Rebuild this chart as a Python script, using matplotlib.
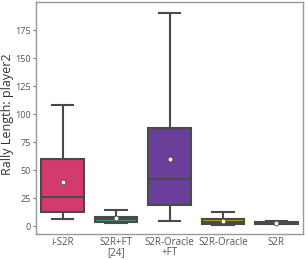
import matplotlib
matplotlib.use("Agg")
import matplotlib.pyplot as plt

plt.rcParams['font.family'] = ['Open Sans', 'DejaVu Sans']

# box statistics
labels = ['i-S2R', 'S2R+FT\n[24]', 'S2R-Oracle\n+FT', 'S2R-Oracle', 'S2R']
whislo = [6, 3, 4.5, 1, 1.5]
q1 = [12.5, 3.5, 19, 2, 2]
med = [26, 6, 42.5, 4, 3]
q3 = [60, 8.3, 88, 6.5, 3.8]
whishi = [108, 14, 190, 12.5, 4.5]
means = [39.5, 7, 60, 4.7, 3]
colors = ['#d23a70', '#3a9b95', '#6a3f9c', '#c79c22', '#5a5a5a']

stats = []
for i in range(len(labels)):
    stats.append({'whislo': whislo[i], 'q1': q1[i], 'med': med[i], 'q3': q3[i],
                  'whishi': whishi[i], 'mean': means[i], 'fliers': []})

fig = plt.figure(figsize=(3.08, 2.6), dpi=100)
ax = fig.add_axes([36 / 308, 26 / 260, 267 / 308, 232 / 260])

line_c = '#4a4a4a'
bp = ax.bxp(stats, positions=range(len(labels)), widths=0.8, patch_artist=True,
            showmeans=True, showfliers=False,
            boxprops=dict(edgecolor=line_c, linewidth=1.5),
            medianprops=dict(color=line_c, linewidth=1.5),
            whiskerprops=dict(color=line_c, linewidth=1.5),
            capprops=dict(color=line_c, linewidth=1.5),
            meanprops=dict(marker='o', markerfacecolor='white', markeredgecolor=line_c,
                           markeredgewidth=0.6, markersize=3.5))
for patch, c in zip(bp['boxes'], colors):
    patch.set_facecolor(c)
for cap in bp['caps']:
    x = cap.get_xdata()
    mid = (x[0] + x[1]) / 2
    cap.set_xdata([mid - 0.2, mid + 0.2])

ax.set_xlim(-0.5, len(labels) - 0.5)
ax.set_ylim(-7, 200)
ax.set_yticks([0, 25, 50, 75, 100, 125, 150, 175])
ax.set_xticks(range(len(labels)))
ax.set_xticklabels(labels, linespacing=0.95)
ax.set_ylabel('Rally Length: player2', fontsize=9, color='#333333')
ax.yaxis.set_label_coords(-0.083, 0.515)
ax.tick_params(axis='both', labelsize=7, colors='#555555', length=2, width=0.6, pad=1.5)
ax.tick_params(axis='y', labelsize=6.6)
ax.tick_params(axis='x', length=0, pad=2)
for s in ax.spines.values():
    s.set_color('#999999')
    s.set_linewidth(1)

fig.savefig('out.png', dpi=100)
